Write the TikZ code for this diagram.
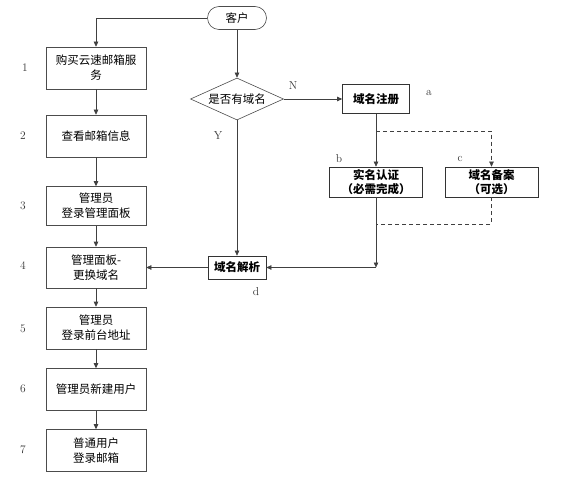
\documentclass[tikz,border=0pt]{standalone}
\usepackage{fontspec}
\newfontfamily\cjk{Noto Sans CJK SC}
\usetikzlibrary{arrows.meta, shapes.geometric, positioning}

\begin{document}
\begin{tikzpicture}[x=1pt, y=-1pt,
    box/.style={draw=black!70, line width=0.6pt, minimum width=100pt, minimum height=42pt, inner sep=1pt, align=center, font=\cjk\fontsize{11.5}{15}\selectfont},
    boldbox/.style={draw=black!80, line width=0.7pt, inner sep=1pt, align=center, font=\cjk\bfseries\fontsize{11.5}{13.5}\selectfont},
    line/.style={draw=black!75, line width=0.6pt},
    arr/.style={line, -{Triangle[length=5pt, width=4.5pt]}},
    dash line/.style={line, dash pattern=on 4pt off 3pt},
    num/.style={font=\fontsize{11.5}{13}\selectfont, text=black!80}]
    \useasboundingbox (0,0) rectangle (564,500);

    % Start
    \node[draw=black!70, line width=0.6pt, rounded corners=11.5pt, minimum width=59pt, minimum height=23pt, inner sep=0pt, font=\cjk\fontsize{11.5}{14}\selectfont] (client) at (237,18) {客户};

    % Left column of steps
    \node[box] (s1) at (96,68) {购买云速邮箱服\\务};
    \node[box] (s2) at (96,136) {查看邮箱信息};
    \node[box, minimum height=39pt] (s3) at (96,206) {管理员\\登录管理面板};
    \node[box, minimum height=41pt] (s4) at (96,267.5) {管理面板-\\更换域名};
    \node[box] (s5) at (96,328) {管理员\\登录前台地址};
    \node[box] (s6) at (96,389.5) {管理员新建用户};
    \node[box] (s7) at (96,450.5) {普通用户\\登录邮箱};

    % Step numbers
    \node[num] (n1) at (25,68) {1};
    \node[num] (n2) at (23,136) {2};
    \node[num] (n3) at (23,206) {3};
    \node[num] (n4) at (23,266) {4};
    \node[num] (n5) at (23,329) {5};
    \node[num] (n6) at (23,389) {6};
    \node[num] (n7) at (23,450) {7};

    % Domain branch
    \node[draw=black!70, line width=0.6pt, diamond, aspect=2.2, minimum width=93pt, minimum height=42pt, inner sep=0pt, font=\cjk\fontsize{11.5}{14}\selectfont] (ask) at (237,99) {是否有域名};
    \node[boldbox, minimum width=67pt, minimum height=29pt] (reg) at (376,99) {域名注册};
    \node[boldbox, minimum width=93pt, minimum height=30pt] (real) at (376,182) {实名认证\\（必需完成）};
    \node[boldbox, minimum width=93pt, minimum height=30pt] (file) at (491.5,182) {域名备案\\（可选）};
    \node[boldbox, minimum width=58pt, minimum height=23pt] (dns) at (237,267.5) {域名解析};

    \coordinate (split) at (376,131);
    \coordinate (merge) at (376,224);
    \coordinate (join) at (376,267.5);

    % Labels
    \node[num] (lN) at (293,86) {N};
    \node[num] (lY) at (218,136) {Y};
    \node[num] (la) at (429,93) {a};
    \node[num] (lb) at (339,159) {b};
    \node[num] (lc) at (460,159) {c};
    \node[num] (ld) at (256,292) {d};

    % Connectors
    \draw[arr] (client.west) -| (s1.north);
    \draw[arr] (s1) -- (s2);
    \draw[arr] (s2) -- (s3);
    \draw[arr] (s3) -- (s4);
    \draw[arr] (s4) -- (s5);
    \draw[arr] (s5) -- (s6);
    \draw[arr] (s6) -- (s7);

    \draw[arr] (client.south) -- (ask.north);
    \draw[arr] (ask.east) -- (reg.west);
    \draw[arr] (ask.south) -- (dns.north);
    \draw[arr] (reg.south) -- (real.north);
    \draw[arr, dash line] (split) -| (file.north);
    \draw[arr] (real.south) -- (join);
    \draw[dash line] (file.south) |- (merge);
    \draw[arr] (join) -- (dns.east);
    \draw[arr] (dns.west) -- (s4.east);
\end{tikzpicture}
\end{document}
